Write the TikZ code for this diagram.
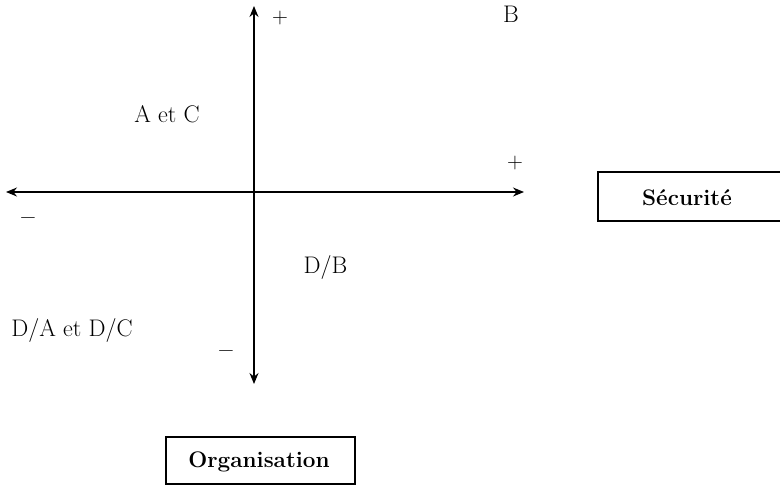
\documentclass[tikz,border=0pt]{standalone}
\usepackage{fontspec}
\setmainfont{Latin Modern Roman}
\usetikzlibrary{arrows.meta}
\begin{document}
\begin{tikzpicture}[x=1pt,y=-1pt,
  axis/.style={line width=1.3pt,{Stealth[length=11pt,width=9pt]}-{Stealth[length=11pt,width=9pt]}},
  lbl/.style={inner sep=0pt,font=\fontsize{24}{28}\selectfont},
  sign/.style={inner sep=0pt,font=\fontsize{22}{26}\selectfont},
  boxline/.style={line width=1.3pt},
  boxlbl/.style={inner sep=0pt,font=\fontsize{22.5}{26}\selectfont\bfseries}]
\useasboundingbox (0,0) rectangle (780,485);
\fill[white] (0,0) rectangle (780,485);
% axes
\coordinate (top) at (254,6);
\coordinate (bottom) at (254,384);
\coordinate (left) at (6,192);
\coordinate (right) at (524,192);
\draw[axis] (bottom) -- (top);
\draw[axis] (left) -- (right);
% signs
\node[sign,anchor=base] (ptop) at (280,23) {+};
\node[sign,anchor=base] (pright) at (515,168) {+};
\node[sign,anchor=base] (mleft) at (28,223) {−};
\node[sign,anchor=base] (mbottom) at (226,356) {−};
% labels
\node[lbl,anchor=base] (B) at (511,22) {B};
\node[lbl,anchor=base] (AC) at (167,122) {A et C};
\node[lbl,anchor=base] (DB) at (325.5,273) {D/B};
\node[lbl,anchor=base] (DADC) at (72,336) {D/A et D/C};
% boxes
\draw[boxline] (781,172) -- (598,172) -- (598,221) -- (781,221);
\node[boxlbl,anchor=base] (sec) at (687,205) {Sécurité};
\draw[boxline] (166,437) rectangle (355,484);
\node[boxlbl,anchor=base] (org) at (259,467) {Organisation};
\end{tikzpicture}
\end{document}
